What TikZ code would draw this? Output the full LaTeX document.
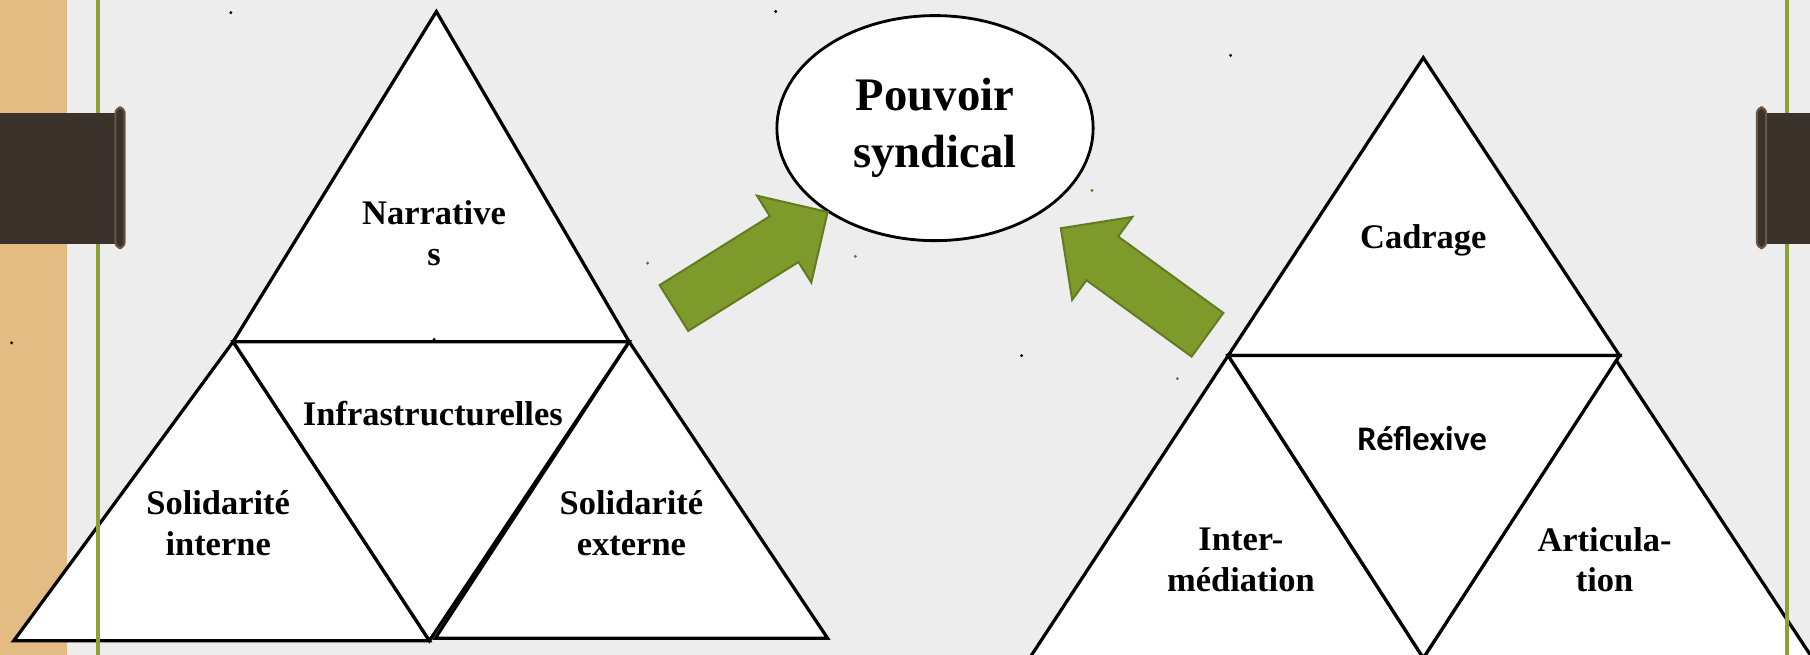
\documentclass[tikz,border=0pt]{standalone}
\usepackage{fontspec}
\setmainfont{Liberation Serif}
\newfontfamily\carlito{Carlito}
\usetikzlibrary{shapes.geometric,shapes.arrows}

\definecolor{fond}{HTML}{EDEDED}
\definecolor{bois}{HTML}{E2BC82}
\definecolor{cuir}{HTML}{3B322B}
\definecolor{cuirbord}{HTML}{6B5642}
\definecolor{filet}{HTML}{8BA236}
\definecolor{flechevert}{HTML}{7E9A2B}
\definecolor{flechebord}{HTML}{647B21}

\tikzset{
  tri/.style={draw=black, fill=white, line width=1.6pt},
  lab/.style={font=\bfseries\fontsize{17}{20}\selectfont, align=center},
  fleche/.style={single arrow, fill=flechevert, draw=flechebord, line width=1pt,
    inner sep=0.45cm, minimum height=3.14cm, minimum width=1.74cm,
    single arrow head extend=0.42cm},
}

\begin{document}
\begin{tikzpicture}[x=0.02cm,y=-0.02cm]
  \useasboundingbox (0,0) rectangle (1568,567);
  % fond
  \fill[fond] (0,0) rectangle (1568,567);
  \fill[bois] (0,0) rectangle (58,567);
  \begin{scope}
    \clip (0,0) rectangle (1568,567);
    % triangles gauche
    \coordinate (A) at (378,10);
    \coordinate (B) at (202,296);
    \coordinate (C) at (545,296);
    \coordinate (D) at (12,555);
    \coordinate (E) at (372,555);
    \coordinate (F) at (377,553);
    \coordinate (G) at (717,553);
    \draw[tri] (A) -- (B) -- (C) -- cycle;
    \draw[tri] (B) -- (D) -- (E) -- cycle;
    \draw[tri] (C) -- (F) -- (G) -- cycle;
    \draw[tri] (B) -- (C) -- (E) -- cycle;
    % triangles droite
    \coordinate (P) at (1233,50);
    \coordinate (Q) at (1064,308);
    \coordinate (R) at (1403,308);
    \coordinate (S) at (892,570);
    \coordinate (T) at (1233,570);
    \coordinate (U) at (1400,312);
    \coordinate (V) at (1570,570);
    \draw[tri] (P) -- (Q) -- (R) -- cycle;
    \draw[tri] (Q) -- (S) -- (T) -- cycle;
    \draw[tri] (U) -- (T) -- (V) -- cycle;
    \draw[tri] (Q) -- (R) -- (T) -- cycle;
  \end{scope}
  % filets verts
  \draw[filet, line width=1.7pt] (85,0) -- (85,567);
  \draw[filet, line width=1.7pt] (1548,0) -- (1548,567);
  % bandes
  \fill[cuir] (0,98) rectangle (104,211);
  \filldraw[fill=cuir, draw=cuirbord, line width=1pt, rounded corners=3pt] (100,93) rectangle (108,215);
  \fill[cuir] (1526,98) rectangle (1568,211);
  \filldraw[fill=cuir, draw=cuirbord, line width=1pt, rounded corners=3pt] (1522,93) rectangle (1530,215);
  % points
  \foreach \x/\y in {200/11, 672/10, 1066/48, 10/297, 885/308, 376/294}
    \fill (\x,\y) circle (0.8pt);
  \foreach \x/\y in {561/228, 741/222, 946/165, 1020/328}
    \fill[flechebord] (\x,\y) circle (0.8pt);
  % textes
  \node[lab] (narr) at (376,202) {Narrative\\s};
  \node[lab] (infra) at (375,358) {Infrastructurelles};
  \node[lab] (solint) at (189,453) {Solidarité\\interne};
  \node[lab] (solext) at (547,453) {Solidarité\\externe};
  \node[lab] (cadrage) at (1233,208) {Cadrage};
  \node[lab, font=\carlito\bfseries\fontsize{17}{20}\selectfont] (reflex) at (1232,380) {Réflexive};
  \node[lab] (intermed) at (1075,485) {Inter-\\médiation};
  \node[lab] (artic) at (1390,485) {Articula-\\tion};
  \node[ellipse, draw, fill=white, line width=1.4pt, minimum width=5.48cm,
    minimum height=3.9cm, font=\bfseries\fontsize{23}{28}\selectfont, align=center]
    (pouvoir) at (810,111) {Pouvoir\\syndical};
  % fleches
  \node[fleche, rotate=32, anchor=tip] (flecheG) at (718,183) {};
  \node[fleche, rotate=144, anchor=tip] (flecheD) at (918,197) {};
\end{tikzpicture}
\end{document}
